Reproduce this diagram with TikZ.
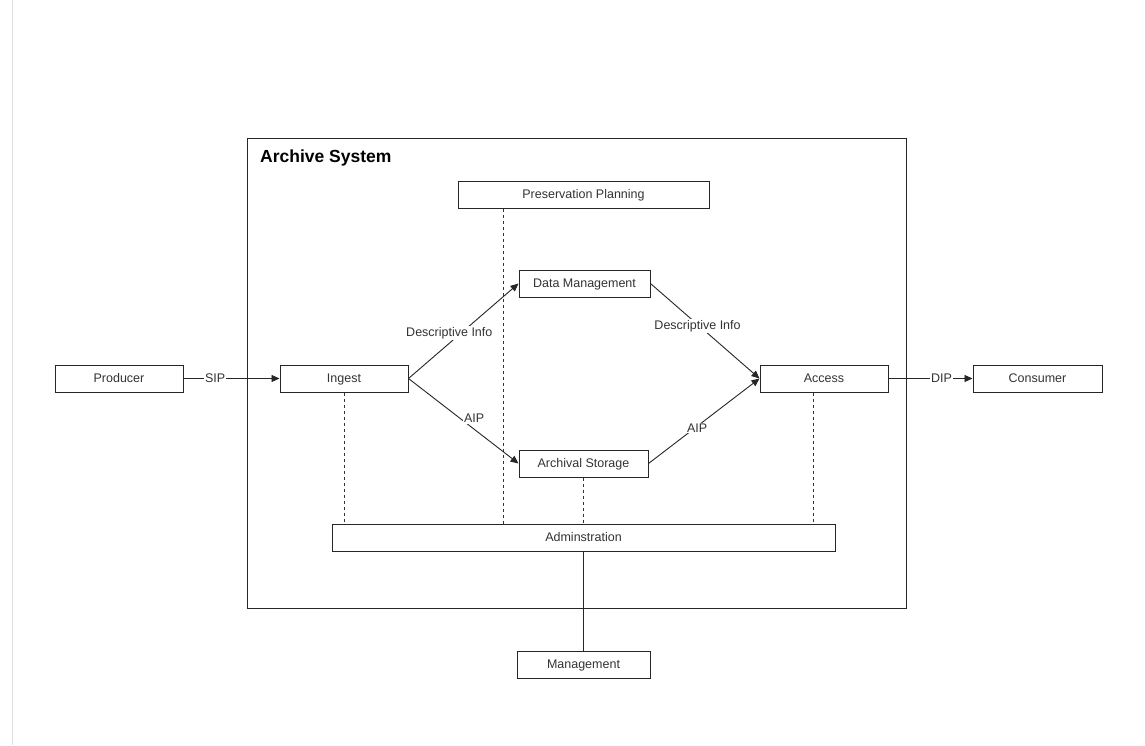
\documentclass[tikz,border=0pt]{standalone}
\usepackage{fontspec}
\setmainfont{Liberation Sans}
\usetikzlibrary{arrows.meta}
\begin{document}
\begin{tikzpicture}[x=1pt,y=-1pt,
  box/.style={draw=black!85, line width=1pt, fill=white, minimum height=27pt, inner sep=0pt,
    text height=7.5pt, text depth=0pt, text=black!80, font=\fontsize{12.5}{15}\selectfont},
  flow/.style={draw=black!85, line width=0.9pt, -{Triangle[length=8pt,width=7pt]}},
  link/.style={draw=black!85, line width=0.9pt},
  dotline/.style={draw=black!80, line width=0.9pt, dash pattern=on 3pt off 3pt},
  lbl/.style={fill=white, inner sep=1pt, text=black!80, font=\fontsize{12.5}{15}\selectfont}]
\useasboundingbox (0,0) rectangle (1145,745);
\fill[white] (0,0) rectangle (1145,745);
\draw[black!12, line width=1pt] (12,0) -- (12,745);
% frame
\node[draw=black!85, line width=1pt, minimum width=659pt, minimum height=470pt, inner sep=0pt] (frame) at (576.5,373) {};
\node[anchor=west, inner sep=0pt, font=\bfseries\fontsize{17.5}{20}\selectfont] (title) at (260,158) {Archive System};
% nodes
\node[box, minimum width=251pt] (pp) at (583.5,194.5) {Preservation Planning};
\node[box, minimum width=131pt] (dm) at (584.5,283.5) {Data Management};
\node[box, minimum width=128pt] (prod) at (119,378.5) {Producer};
\node[box, minimum width=128pt] (ing) at (344,378.5) {Ingest};
\node[box, minimum width=128pt] (acc) at (824,378.5) {Access};
\node[box, minimum width=129pt] (cons) at (1037.5,378.5) {Consumer};
\node[box, minimum width=129pt] (as) at (583.5,463.5) {Archival Storage};
\node[box, minimum width=503pt] (adm) at (583.5,537.5) {Adminstration};
\node[box, minimum width=133pt] (mgmt) at (583.5,664.5) {Management};
% dashed links
\draw[dotline] (pp.south -| 503,0) -- (adm.north -| 503,0);
\draw[dotline] (ing.south) -- (adm.north -| ing.south);
\draw[dotline] (as.south) -- (adm.north -| as.south);
\draw[dotline] (acc.south -| 813,0) -- (adm.north -| 813,0);
\draw[link] (adm.south) -- (mgmt.north);
% flows
\draw[flow] (prod.east) -- node[lbl, pos=0.33] (sip) {SIP} (ing.west);
\draw[flow] (acc.east) -- node[lbl, pos=0.63] (dip) {DIP} (cons.west);
\draw[flow] (ing.east) -- node[lbl, pos=0.48, xshift=-12pt] (d1) {Descriptive Info} (dm.west);
\draw[flow] (ing.east) -- node[lbl, pos=0.47, xshift=14pt] (a1) {AIP} (as.west);
\draw[flow] (dm.east) -- node[lbl, pos=0.45, xshift=-2pt] (d2) {Descriptive Info} (acc.west);
\draw[flow] (as.east) -- node[lbl, pos=0.42, xshift=2pt] (a2) {AIP} (acc.west);
\end{tikzpicture}
\end{document}
